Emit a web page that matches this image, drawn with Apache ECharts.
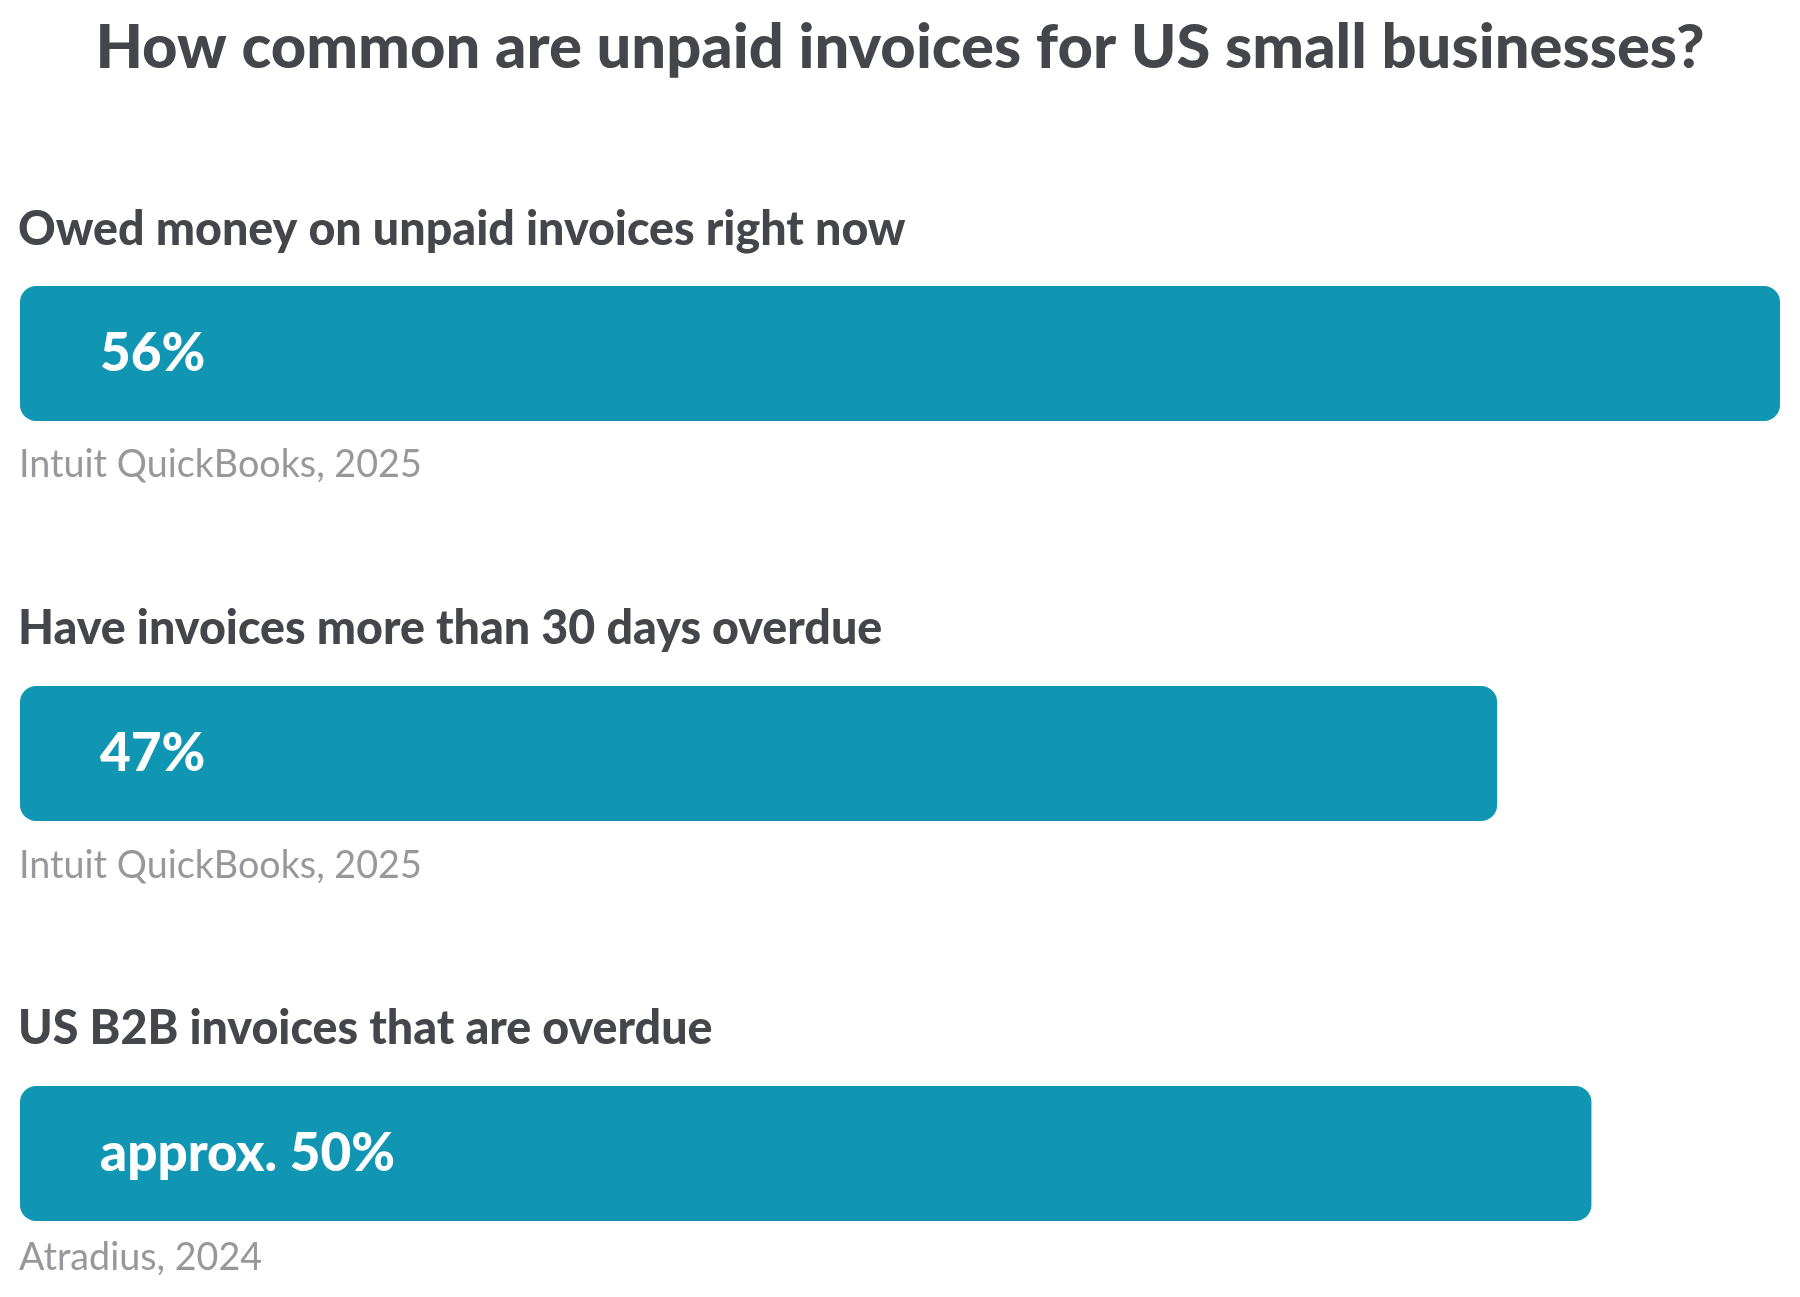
<!DOCTYPE html>
<html>
<head>
<meta charset="utf-8">
<script src="https://cdn.jsdelivr.net/npm/echarts@6/dist/echarts.min.js"></script>
<style>
  html, body { margin: 0; padding: 0; background: #ffffff; }
  #chart { width: 1800px; height: 1297px; }
</style>
</head>
<body>
<div id="chart"></div>
<script>
const chartTitle = 'How common are unpaid invoices for US small businesses?';
const sectionTitles = [
  'Owed money on unpaid invoices right now',
  'Have invoices more than 30 days overdue',
  'US B2B invoices that are overdue'
];
const values = [56, 47, 50];
const valueLabels = ['56%', '47%', 'approx. 50%'];
const sources = ['Intuit QuickBooks, 2025', 'Intuit QuickBooks, 2025', 'Atradius, 2024'];

const FONT = 'Lato, "Noto Sans", sans-serif';
const DARK = '#45464c';
const BAR = '#1096b3';
const GREY = '#98989c';

const barTops = [286, 686, 1086];
const subtitleY = [230, 629, 1029];
const sourceY = [465, 866, 1258];
const BAR_H = 135;
const AXIS_MAX = 56;

const grids = [], xAxes = [], yAxes = [], series = [], graphics = [];

graphics.push({
  type: 'text', left: 'center', top: 17,
  style: { text: chartTitle, font: '900 61.5px ' + FONT, fill: DARK }
});

sectionTitles.forEach((name, i) => {
  grids.push({ left: 20, right: 20, top: barTops[i], height: BAR_H, containLabel: false });
  xAxes.push({ type: 'value', gridIndex: i, min: 0, max: AXIS_MAX, show: false });
  yAxes.push({ type: 'category', gridIndex: i, data: [name], show: false });
  series.push({
    type: 'bar', xAxisIndex: i, yAxisIndex: i,
    data: [values[i]],
    barWidth: BAR_H,
    itemStyle: { color: BAR, borderRadius: 16 },
    label: {
      show: true, position: 'insideLeft', distance: 80,
      formatter: () => valueLabels[i],
      color: '#ffffff', fontFamily: FONT, fontWeight: 900, fontSize: 53
    },
    silent: true, animation: false
  });
  graphics.push({
    type: 'text', x: 18, y: subtitleY[i],
    style: { text: name, font: '900 46.6px ' + FONT, fill: DARK, textVerticalAlign: 'middle' }
  });
  graphics.push({
    type: 'text', x: 19, y: sourceY[i],
    style: { text: sources[i], font: '37.7px ' + FONT, fill: GREY, textVerticalAlign: 'middle' }
  });
});

const chart = echarts.init(document.getElementById('chart'), null, { renderer: 'canvas' });
chart.setOption({
  backgroundColor: '#ffffff',
  animation: false,
  grid: grids,
  xAxis: xAxes,
  yAxis: yAxes,
  series: series,
  graphic: graphics
});
</script>
</body>
</html>
